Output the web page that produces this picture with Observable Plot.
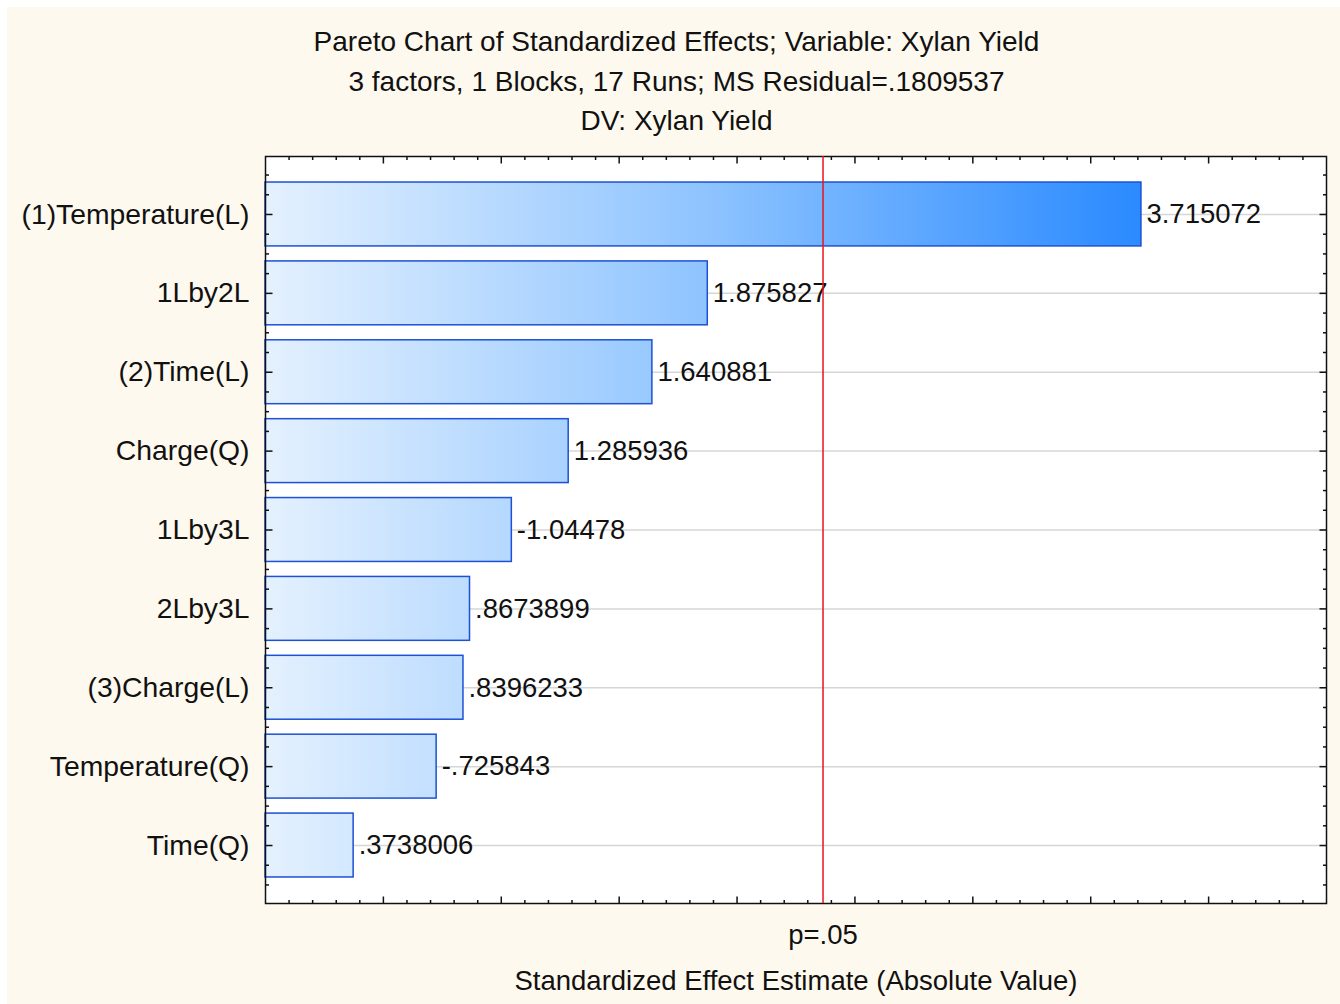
<!DOCTYPE html>
<html><head><meta charset="utf-8">
<script src="https://cdn.jsdelivr.net/npm/d3@7"></script>
<script src="https://cdn.jsdelivr.net/npm/@observablehq/plot@0.6"></script>
<style>
html,body{margin:0;padding:0;background:#fff;}
#wrap{position:absolute;left:7px;top:7px;width:1333px;height:997px;background:#fef9ee;font-family:'Liberation Sans',Arial,sans-serif;color:#111;overflow:hidden}
#title{height:133px;box-sizing:border-box;padding-top:15px;padding-left:6px;text-align:center;font-size:28px;line-height:39.5px;white-space:nowrap}
#chart svg{display:block}
</style></head><body>
<div id="wrap"><div id="title"></div><div id="chart"></div></div>
<script>
const titleLines = [
  "Pareto Chart of Standardized Effects; Variable: Xylan Yield",
  "3 factors, 1 Blocks, 17 Runs; MS Residual=.1809537",
  "DV: Xylan Yield"
];
const factors = ["(1)Temperature(L)", "1Lby2L", "(2)Time(L)", "Charge(Q)", "1Lby3L", "2Lby3L", "(3)Charge(L)", "Temperature(Q)", "Time(Q)"];
const effects = [3.715072, 1.875827, 1.640881, 1.285936, -1.04478, 0.8673899, 0.8396233, -0.725843, 0.3738006];
const pCritical = 2.364624;
const pLabel = "p=.05";
const xTitle = "Standardized Effect Estimate (Absolute Value)";
const xDomain = [0, 4.5];

const titleEl = document.getElementById("title");
titleLines.forEach(t => { const d = document.createElement("div"); d.textContent = t; titleEl.appendChild(d); });

const fmt = v => String(v).replace(/^(-?)0\./, "$1.");
const rows = factors.map((f, i) => ({factor: f, i, effect: effects[i], abs: Math.abs(effects[i]), label: fmt(effects[i])}));

const yTop = -0.735, yBot = factors.length - 1 + 0.735;
const half = 0.405;
const xMajor = d3.range(1, 9).map(k => k * 0.5);
const xMinor = d3.range(1, 45).filter(k => k % 5).map(k => k / 10);
const yMajor = d3.range(factors.length);
const yMinor = d3.range(-2, 35).filter(k => k % 4 !== 0).map(k => k / 4);

const tk = (dx, dy) => ({draw(ctx) { ctx.moveTo(0, 0); ctx.lineTo(dx, dy); }});
const tickStyle = {stroke: "#111", fill: "none", strokeWidth: 1.5};
const FS = 27.5;
const FL = 28.3;

const plot = Plot.plot({
  width: 1333, height: 864,
  marginTop: 16, marginBottom: 101, marginLeft: 258, marginRight: 14,
  style: {fontFamily: "'Liberation Sans', Arial, sans-serif", background: "transparent", overflow: "visible", color: "#111"},
  x: {domain: xDomain, axis: null},
  y: {domain: [yTop, yBot], reverse: true, axis: null},
  marks: [
    Plot.frame({fill: "#fff", stroke: "none"}),
    Plot.ruleY(rows, {y: "i", stroke: "#d6d6d6", strokeWidth: 1.5}),
    Plot.rect(rows, {x1: 0, x2: "abs", y1: d => d.i - half, y2: d => d.i + half, fill: "url(#barGrad)", stroke: "#1d50d4", strokeWidth: 1.5}),
    Plot.text(rows, {x: "abs", y: "i", text: "label", textAnchor: "start", dx: 5, fontSize: FS, fill: "#111"}),
    Plot.text(rows, {y: "i", text: "factor", frameAnchor: "left", textAnchor: "end", lineAnchor: "middle", dx: -16, fontSize: FL, fill: "#111"}),
    Plot.dotX(xMinor, {x: d => d, frameAnchor: "bottom", symbol: tk(0, -3.5), ...tickStyle}),
    Plot.dotX(xMajor, {x: d => d, frameAnchor: "bottom", symbol: tk(0, -7), ...tickStyle}),
    Plot.dotX(xMinor, {x: d => d, frameAnchor: "top", symbol: tk(0, 3.5), ...tickStyle}),
    Plot.dotX(xMajor, {x: d => d, frameAnchor: "top", symbol: tk(0, 7), ...tickStyle}),
    Plot.dotY(yMinor, {y: d => d, frameAnchor: "left", symbol: tk(3.5, 0), ...tickStyle}),
    Plot.dotY(yMajor, {y: d => d, frameAnchor: "left", symbol: tk(7, 0), ...tickStyle}),
    Plot.dotY(yMinor, {y: d => d, frameAnchor: "right", symbol: tk(-3.5, 0), ...tickStyle}),
    Plot.dotY(yMajor, {y: d => d, frameAnchor: "right", symbol: tk(-7, 0), ...tickStyle}),
    Plot.frame({stroke: "#111", strokeWidth: 1.5}),
    Plot.ruleX([pCritical], {x: d => d, stroke: "#e8141c", strokeWidth: 1.5}),
    Plot.text([pCritical], {x: d => d, frameAnchor: "bottom", lineAnchor: "middle", dy: 32, text: () => pLabel, fontSize: FS, fill: "#111"}),
    Plot.text([xTitle], {frameAnchor: "bottom", lineAnchor: "middle", dy: 78, text: d => d, fontSize: FS, fill: "#111"})
  ]
});

const xs = plot.scale("x");
const gx0 = xs.apply(0), gx1 = xs.apply(d3.max(rows, d => d.abs));
const ns = "http://www.w3.org/2000/svg";
const defs = document.createElementNS(ns, "defs");
const grad = document.createElementNS(ns, "linearGradient");
grad.setAttribute("id", "barGrad");
grad.setAttribute("gradientUnits", "userSpaceOnUse");
grad.setAttribute("x1", gx0); grad.setAttribute("x2", gx1);
grad.setAttribute("y1", 0); grad.setAttribute("y2", 0);
[[0, "#e4f1fe"], [0.5, "#8fc4ff"], [1, "#2a8aff"]].forEach(([o, c]) => {
  const s = document.createElementNS(ns, "stop");
  s.setAttribute("offset", o); s.setAttribute("stop-color", c);
  grad.appendChild(s);
});
defs.appendChild(grad);
plot.insertBefore(defs, plot.firstChild);
document.getElementById("chart").appendChild(plot);
</script>
</body></html>
